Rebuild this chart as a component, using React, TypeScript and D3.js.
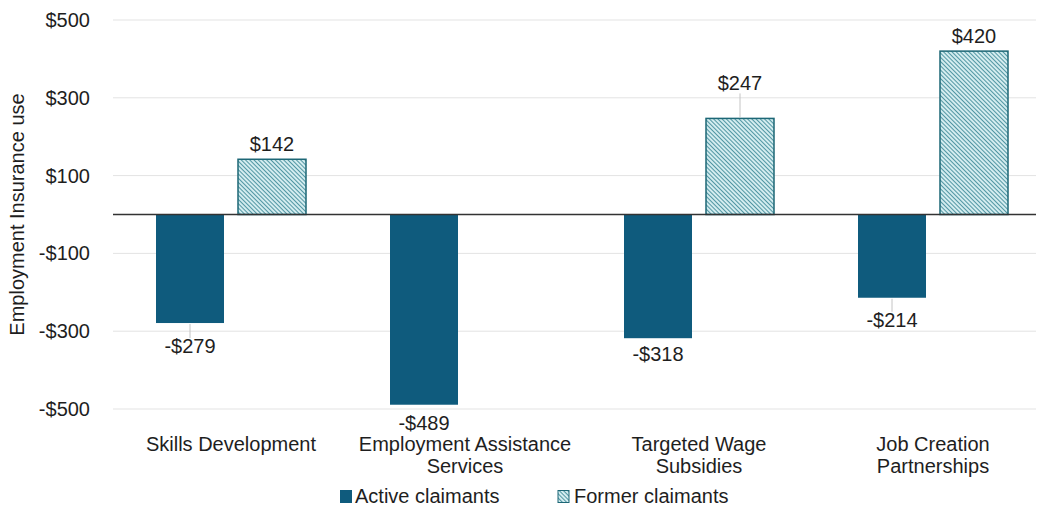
import React from "react";
import * as d3 from "d3";

const categories: string[][] = [
  ["Skills Development"],
  ["Employment Assistance", "Services"],
  ["Targeted Wage", "Subsidies"],
  ["Job Creation", "Partnerships"],
];
const seriesNames = ["Active claimants", "Former claimants"];
const activeValues: (number | null)[] = [-279, -489, -318, -214];
const formerValues: (number | null)[] = [142, null, 247, 420];
const yTicks = [-500, -300, -100, 100, 300, 500];

// layout tweaks for value labels (extra px gap from bar end; leader line if > 0)
const labelNudge: number[][] = [
  [7, 0],
  [2, 0],
  [0, 20],
  [6, 0],
];

const W = 1040;
const H = 508;
const ACTIVE = "#0f5b7d";
const HATCH_BG = "#d3ecef";
const HATCH_LINE = "#2f8090";
const BORDER = "#1d6776";
const FONT = "'Liberation Sans', Arial, sans-serif";
const TEXT = "#1e1e1e";

export default function App() {
  const y = d3.scaleLinear().domain([-500, 500]).range([409, 20]);
  const x0 = d3
    .scaleBand<number>()
    .domain(categories.map((_, i) => i))
    .range([114, 1050])
    .padding(0);
  const x1 = d3
    .scaleBand<number>()
    .domain([0, 1])
    .range([42, 192])
    .paddingInner(14 / 82)
    .paddingOuter(0);
  const gridLeft = 113;
  const gridRight = 1036;
  const fmt = (v: number) => (v < 0 ? "-$" + Math.abs(v) : "$" + v);

  const bars: any[] = [];
  categories.forEach((_, ci) => {
    [activeValues[ci], formerValues[ci]].forEach((v, si) => {
      if (v === null || v === undefined) return;
      const bx = (x0(ci) as number) + (x1(si) as number);
      const bw = x1.bandwidth();
      const top = Math.min(y(v), y(0));
      const h = Math.abs(y(v) - y(0));
      const cx = bx + bw / 2;
      const nudge = labelNudge[ci][si];
      const gap = 8 + nudge;
      const ly = v >= 0 ? y(v) - gap : y(v) + gap + 15;
      bars.push(
        <g key={`${ci}-${si}`}>
          <rect
            x={bx}
            y={top}
            width={bw}
            height={h}
            fill={si === 0 ? ACTIVE : "url(#hatch)"}
            stroke={si === 0 ? "none" : BORDER}
            strokeWidth={si === 0 ? 0 : 1.5}
          />
          {nudge > 3 && (
            <line
              x1={cx}
              x2={cx}
              y1={v >= 0 ? y(v) - 1 : y(v) + 1}
              y2={v >= 0 ? y(v) - gap + 3 : y(v) + gap}
              stroke="#c4c4c4"
              strokeWidth={1}
            />
          )}
          <text
            x={cx}
            y={ly}
            textAnchor="middle"
            fontSize={20}
            fill={TEXT}
            fontFamily={FONT}
          >
            {fmt(v)}
          </text>
        </g>
      );
    });
  });

  return (
    <svg
      width={W}
      height={H}
      style={{ position: "absolute", left: 0, top: 0, background: "#fff" }}
    >
      <defs>
        <pattern
          id="hatch"
          patternUnits="userSpaceOnUse"
          width={3}
          height={3}
          patternTransform="rotate(-45)"
        >
          <rect width={3} height={3} fill={HATCH_BG} />
          <line x1={0} y1={0} x2={0} y2={3} stroke={HATCH_LINE} strokeWidth={1.6} />
        </pattern>
      </defs>
      {yTicks.map((t) => (
        <g key={t}>
          <line
            x1={gridLeft}
            x2={gridRight}
            y1={y(t)}
            y2={y(t)}
            stroke="#e3e3e3"
            strokeWidth={1}
          />
          <text
            x={90}
            y={y(t) + 7}
            textAnchor="end"
            fontSize={20}
            fill={TEXT}
            fontFamily={FONT}
          >
            {fmt(t)}
          </text>
        </g>
      ))}
      <text
        transform={`translate(24,${(y(500) + y(-500)) / 2}) rotate(-90)`}
        textAnchor="middle"
        fontSize={20}
        fill={TEXT}
        fontFamily={FONT}
      >
        Employment Insurance use
      </text>
      {bars}
      <line
        x1={gridLeft}
        x2={gridRight}
        y1={y(0)}
        y2={y(0)}
        stroke="#333"
        strokeWidth={1.5}
      />
      {categories.map((lines, ci) => (
        <text
          key={ci}
          x={(x0(ci) as number) + x0.bandwidth() / 2}
          y={451}
          textAnchor="middle"
          fontSize={20}
          fill={TEXT}
          fontFamily={FONT}
        >
          {lines.map((l, li) => (
            <tspan key={li} x={(x0(ci) as number) + x0.bandwidth() / 2} dy={li === 0 ? 0 : 22}>
              {l}
            </tspan>
          ))}
        </text>
      ))}
      <g>
        <rect x={340} y={490} width={12} height={13} fill={ACTIVE} />
        <text x={355} y={503} fontSize={20} fill={TEXT} fontFamily={FONT}>
          {seriesNames[0]}
        </text>
        <rect
          x={558}
          y={490.5}
          width={11}
          height={12}
          fill="url(#hatch)"
          stroke={BORDER}
          strokeWidth={1}
        />
        <text x={574} y={503} fontSize={20} fill={TEXT} fontFamily={FONT}>
          {seriesNames[1]}
        </text>
      </g>
    </svg>
  );
}
